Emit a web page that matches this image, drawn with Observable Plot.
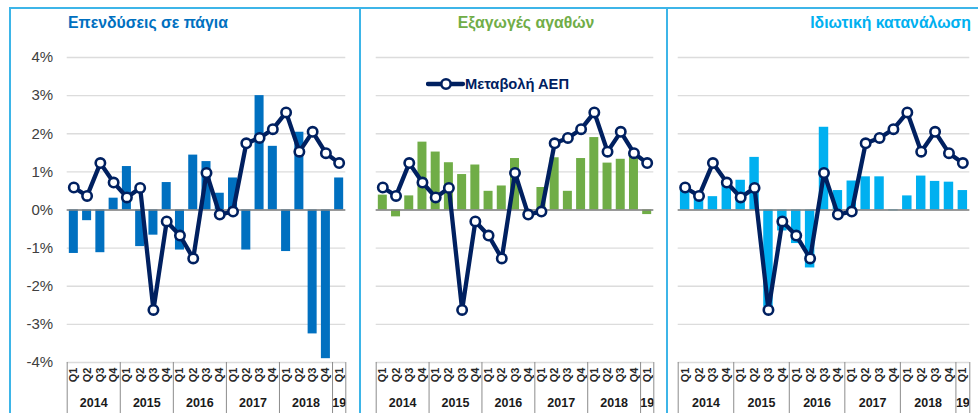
<!DOCTYPE html>
<html><head><meta charset="utf-8">
<script src="https://cdn.jsdelivr.net/npm/d3@7"></script>
<script src="https://cdn.jsdelivr.net/npm/@observablehq/plot@0.6"></script>
<style>
body{margin:0;background:#fff;font-family:"Liberation Sans",Arial,sans-serif;}
#wrap{position:relative;width:978px;height:413px;overflow:hidden;background:#fff}
.panel{position:absolute;top:0}
.vline{position:absolute;top:7px;width:2px;height:420px;background:#3db5e8}
.hline{position:absolute;top:7px;left:9px;width:980px;height:2px;background:#3db5e8}
.title{position:absolute;font-weight:bold;font-size:15.8px;line-height:16px;white-space:nowrap;top:15px}
.legend{position:absolute;font-weight:bold;font-size:14.7px;line-height:15px;color:#002060;white-space:nowrap}
</style></head><body><div id="wrap"></div>
<script>
const quarters = ["Q1","Q2","Q3","Q4","Q1","Q2","Q3","Q4","Q1","Q2","Q3","Q4","Q1","Q2","Q3","Q4","Q1","Q2","Q3","Q4","Q1"];
const years = ["2014","2015","2016","2017","2018","19"];
const yTicks = [-4,-3,-2,-1,0,1,2,3,4];
const gdp = [0.59,0.37,1.23,0.72,0.33,0.58,-2.62,-0.30,-0.67,-1.27,0.97,-0.12,-0.04,1.75,1.89,2.12,2.56,1.53,2.05,1.49,1.23];
const investment = [-1.14,-0.28,-1.12,0.31,1.14,-0.96,-0.66,0.72,-1.05,1.44,1.27,0.44,0.84,-1.05,3.00,1.67,-1.09,2.04,-3.25,-3.90,0.84];
const exportsGoods = [0.39,-0.18,0.37,1.78,1.52,1.24,0.93,1.18,0.49,0.63,1.35,-0.05,0.59,1.37,0.49,1.35,1.90,1.23,1.33,1.43,-0.12];
const consumption = [0.51,0.40,0.35,0.69,0.78,1.38,-2.55,-0.55,-0.88,-1.52,2.17,0.51,0.76,0.87,0.87,-0.02,0.37,0.89,0.75,0.73,0.51];
const titles = ["Επενδύσεις σε πάγια","Εξαγωγές αγαθών","Ιδιωτική κατανάλωση"];
const legendLabel = "Μεταβολή ΑΕΠ";

const navy = "#002060";
const wrap = document.getElementById("wrap");

function makePanel(values, color, left, width, ml, mr, showY) {
  const rows = quarters.map((q, i) => ({i, q, v: values[i], g: gdp[i]}));
  const yearRows = years.map((y, k) => ({y, start: k * 4, end: Math.min(k * 4 + 4, quarters.length)}));
  const bounds = [-0.5, ...yearRows.map(d => d.end - 0.5)];
  const chart = Plot.plot({
    width, height: 413,
    marginLeft: ml, marginRight: mr, marginTop: 57, marginBottom: 51,
    style: {fontFamily: "'Liberation Sans', Arial, sans-serif", fontSize: "15px", color: "#404040", background: "transparent", overflow: "visible"},
    x: {domain: [-0.5, quarters.length - 0.5], axis: null},
    y: {domain: [-4, 4], ticks: yTicks, tickFormat: d => d + "%", tickSize: 0, tickPadding: 14, label: null, axis: showY ? "left" : null},
    marks: [
      Plot.ruleY(yTicks, {stroke: "#dcdcdc", strokeWidth: 1.3}),
      Plot.rectY(rows, {x1: d => d.i - 0.34, x2: d => d.i + 0.34, y: "v", fill: color}),
      Plot.ruleY([0], {stroke: "#808080", strokeWidth: 1.5}),
      Plot.line(rows, {x: "i", y: "g", stroke: navy, strokeWidth: 4.3}),
      Plot.dot(rows, {x: "i", y: "g", r: 4.7, fill: "white", stroke: navy, strokeWidth: 2.6}),
      Plot.text(rows, {x: "i", y: -4, text: "q", rotate: -90, textAnchor: "end", lineAnchor: "middle", dy: 5, fontSize: 11, fontWeight: "bold", fill: "#262626"}),
      Plot.text(yearRows, {x: d => (d.start + d.end - 1) / 2, y: -4, text: "y", dy: 40, fontSize: 12.5, fontWeight: "bold", fill: "#1a1a1a"}),
      Plot.ruleX(bounds, {x: d => d, y1: -4, y2: -5.5, stroke: "#8c8c8c", strokeWidth: 1})
    ]
  });
  chart.classList.add("panel");
  chart.style.left = left + "px";
  chart.style.position = "absolute";
  wrap.appendChild(chart);
}

makePanel(investment, "#0070C0", 0, 360, 66.7, 14.7, true);
makePanel(exportsGoods, "#70AD47", 360, 307, 15.7, 13.7, false);
makePanel(consumption, "#00B0F0", 667, 311, 10.7, 8.7, false);

// frames
const h = document.createElement("div"); h.className = "hline"; wrap.appendChild(h);
[9, 359, 666].forEach(x => { const v = document.createElement("div"); v.className = "vline"; v.style.left = x + "px"; wrap.appendChild(v); });

// titles
const t1 = document.createElement("div"); t1.className = "title"; t1.textContent = titles[0]; t1.style.left = "68px"; t1.style.color = "#0070C0"; wrap.appendChild(t1);
const t2 = document.createElement("div"); t2.className = "title"; t2.textContent = titles[1]; t2.style.left = "526px"; t2.style.transform = "translateX(-50%)"; t2.style.color = "#70AD47"; wrap.appendChild(t2);
const t3 = document.createElement("div"); t3.className = "title"; t3.textContent = titles[2]; t3.style.right = "7px"; t3.style.color = "#00B0F0"; wrap.appendChild(t3);

// legend
const ns = "http://www.w3.org/2000/svg";
const lg = document.createElementNS(ns, "svg");
lg.setAttribute("width", 42); lg.setAttribute("height", 20);
lg.style.position = "absolute"; lg.style.left = "426px"; lg.style.top = "74px";
const ln = document.createElementNS(ns, "line");
ln.setAttribute("x1", 2); ln.setAttribute("x2", 37); ln.setAttribute("y1", 10); ln.setAttribute("y2", 10);
ln.setAttribute("stroke", navy); ln.setAttribute("stroke-width", 4.3); ln.setAttribute("stroke-linecap", "round");
const cc = document.createElementNS(ns, "circle");
cc.setAttribute("cx", 20); cc.setAttribute("cy", 10); cc.setAttribute("r", 4.7);
cc.setAttribute("fill", "white"); cc.setAttribute("stroke", navy); cc.setAttribute("stroke-width", 2.6);
lg.appendChild(ln); lg.appendChild(cc); wrap.appendChild(lg);
const lt = document.createElement("div"); lt.className = "legend"; lt.textContent = legendLabel;
lt.style.left = "465px"; lt.style.top = "77px"; wrap.appendChild(lt);
</script>
</body></html>
